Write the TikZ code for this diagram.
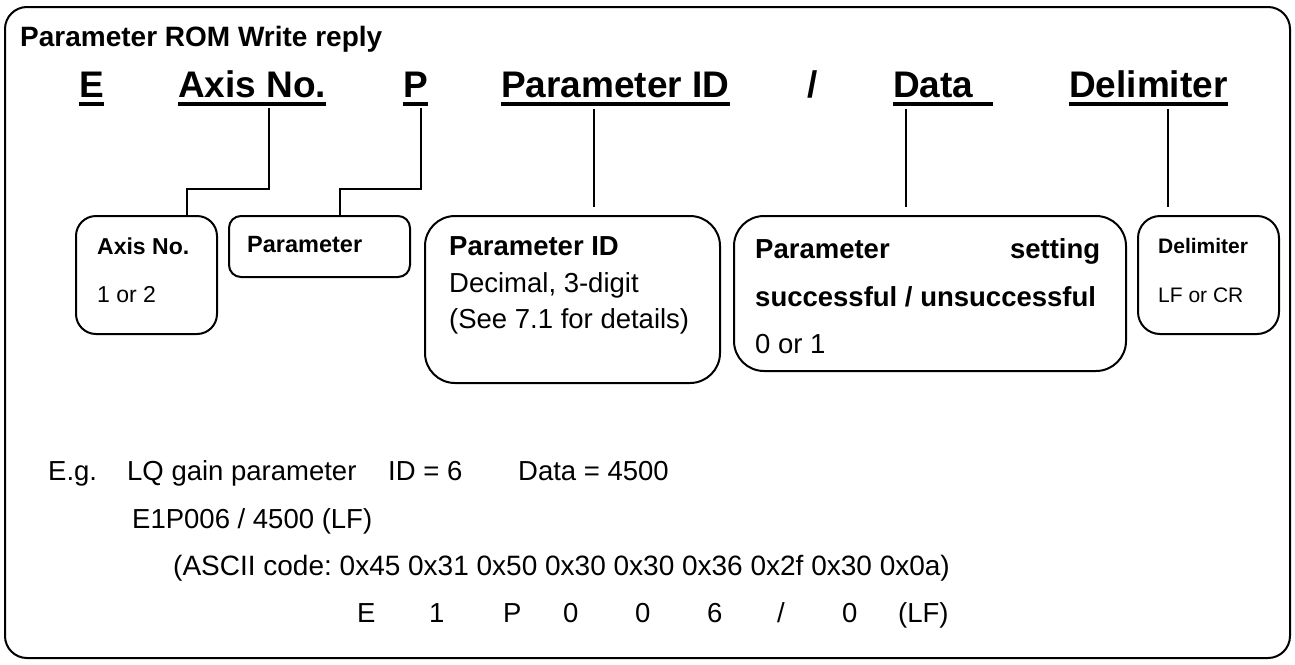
\documentclass[tikz,border=0pt]{standalone}
\usepackage{fontspec}
\setmainfont{Liberation Sans}
\frenchspacing
\begin{document}
\frenchspacing
\begin{tikzpicture}[x=1pt,y=-1pt,
  hdr/.style={anchor=base west, inner sep=0pt, font=\fontsize{37}{40}\selectfont\bfseries},
  uline/.style={line width=3.5pt},
  box/.style={draw, line width=2pt, anchor=north west, inner sep=0pt},
  conn/.style={line width=2.2pt},
  connv/.style={line width=1.7pt},
  txt/.style={anchor=base west, inner sep=0pt, font=\fontsize{27.5}{30}\selectfont},
  btxt/.style={anchor=base west, inner sep=0pt, font=\fontsize{27.5}{30}\selectfont\bfseries},
  stxt/.style={anchor=base west, inner sep=0pt, font=\fontsize{23}{26}\selectfont},
  sbtxt/.style={anchor=base west, inner sep=0pt, font=\fontsize{23}{26}\selectfont\bfseries}
]
\useasboundingbox (0,0) rectangle (1295,664);
% outer frame
\draw[line width=2pt, rounded corners=22pt] (5,7) rectangle (1290,658);

% title
\node[btxt, font=\fontsize{28}{30}\selectfont\bfseries] (title) at (20,46) {Parameter ROM Write reply};

% header items
\node[hdr] (hE) at (79,97) {E};
\node[hdr] (hAxis) at (178,97) {Axis No.};
\node[hdr] (hP) at (403,97) {P};
\node[hdr] (hPID) at (501,97) {Parameter ID};
\node[hdr] (hSl) at (807,97) {/};
\node[hdr] (hData) at (893,97) {Data\hspace*{19pt}};
\node[hdr] (hDelim) at (1069,97) {Delimiter};
\foreach \n in {hE,hAxis,hP,hPID,hData,hDelim}
  \draw[uline] ([yshift=-7pt]\n.base west) -- ([yshift=-7pt]\n.base east);

% boxes
\node[box, rounded corners=20pt, minimum width=141pt, minimum height=118pt] (bAxis) at (75,215) {};
\node[box, rounded corners=12pt, minimum width=181pt, minimum height=61pt] (bParam) at (228,215) {};
\node[box, rounded corners=30pt, minimum width=295pt, minimum height=167pt] (bPID) at (424,215) {};
\node[box, rounded corners=30pt, minimum width=392pt, minimum height=155pt] (bData) at (733,215) {};
\node[box, rounded corners=22pt, minimum width=141pt, minimum height=118pt] (bDelim) at (1137,215) {};

% box texts
\node[sbtxt] (tAxis1) at (97,254) {Axis No.};
\node[stxt] (tAxis2) at (97,302) {1 or 2};
\node[sbtxt, font=\fontsize{23.5}{26}\selectfont\bfseries] (tParam) at (247,252) {Parameter};
\node[btxt] (tPID1) at (449,255) {Parameter ID};
\node[txt] (tPID2) at (449,292) {Decimal, 3-digit};
\node[txt] (tPID3) at (449,328) {(See 7.1 for details)};
\node[btxt] (tData1) at (755,258) {\hbox to 345pt{Parameter\hfill setting}};
\node[btxt] (tData2) at (755,306) {successful / unsuccessful};
\node[txt] (tData3) at (755,353) {0 or 1};
\node[sbtxt, font=\fontsize{21}{24}\selectfont\bfseries] (tDel1) at (1158,253) {Delimiter};
\node[stxt, font=\fontsize{21}{24}\selectfont] (tDel2) at (1158,302) {LF or CR};

% connectors
\draw[conn] ([xshift=91pt,yshift=-11pt]hAxis.base west) |- ([xshift=112pt,yshift=26pt]bAxis.north west) -- ([xshift=112pt,yshift=-2pt]bAxis.north west);
\draw[conn] ([xshift=18pt,yshift=-11pt]hP.base west) |- ([xshift=112pt,yshift=26pt]bParam.north west) -- ([xshift=112pt,yshift=-2pt]bParam.north west);
\draw[connv] ([xshift=93pt,yshift=-12pt]hPID.base west) -- ([xshift=170pt,yshift=8pt]bPID.north west);
\draw[connv] ([xshift=13pt,yshift=-12pt]hData.base west) -- ([xshift=173pt,yshift=8pt]bData.north west);
\draw[connv] ([xshift=99pt,yshift=-12pt]hDelim.base west) -- ([xshift=31pt,yshift=8pt]bDelim.north west);

% example text
\node[txt] (eg1) at (48,480) {E.g.};
\node[txt] (eg2) at (127,480) {LQ gain parameter};
\node[txt] (eg3) at (388,480) {ID = 6};
\node[txt] (eg4) at (518,480) {Data = 4500};
\node[txt] (row2) at (132,528) {E1P006 / 4500 (LF)};
\node[txt, font=\fontsize{28}{30}\selectfont] (row3) at (173,575) {(ASCII code: 0x45 0x31 0x50 0x30 0x30 0x36 0x2f 0x30 0x0a)};
\node[txt] (c1) at (357,622) {E};
\node[txt] (c2) at (429,622) {1};
\node[txt] (c3) at (503,622) {P};
\node[txt] (c4) at (563,622) {0};
\node[txt] (c5) at (635,622) {0};
\node[txt] (c6) at (707,622) {6};
\node[txt] (c7) at (777,622) {/};
\node[txt] (c8) at (842,622) {0};
\node[txt] (c9) at (898,622) {(LF)};
\end{tikzpicture}
\end{document}
